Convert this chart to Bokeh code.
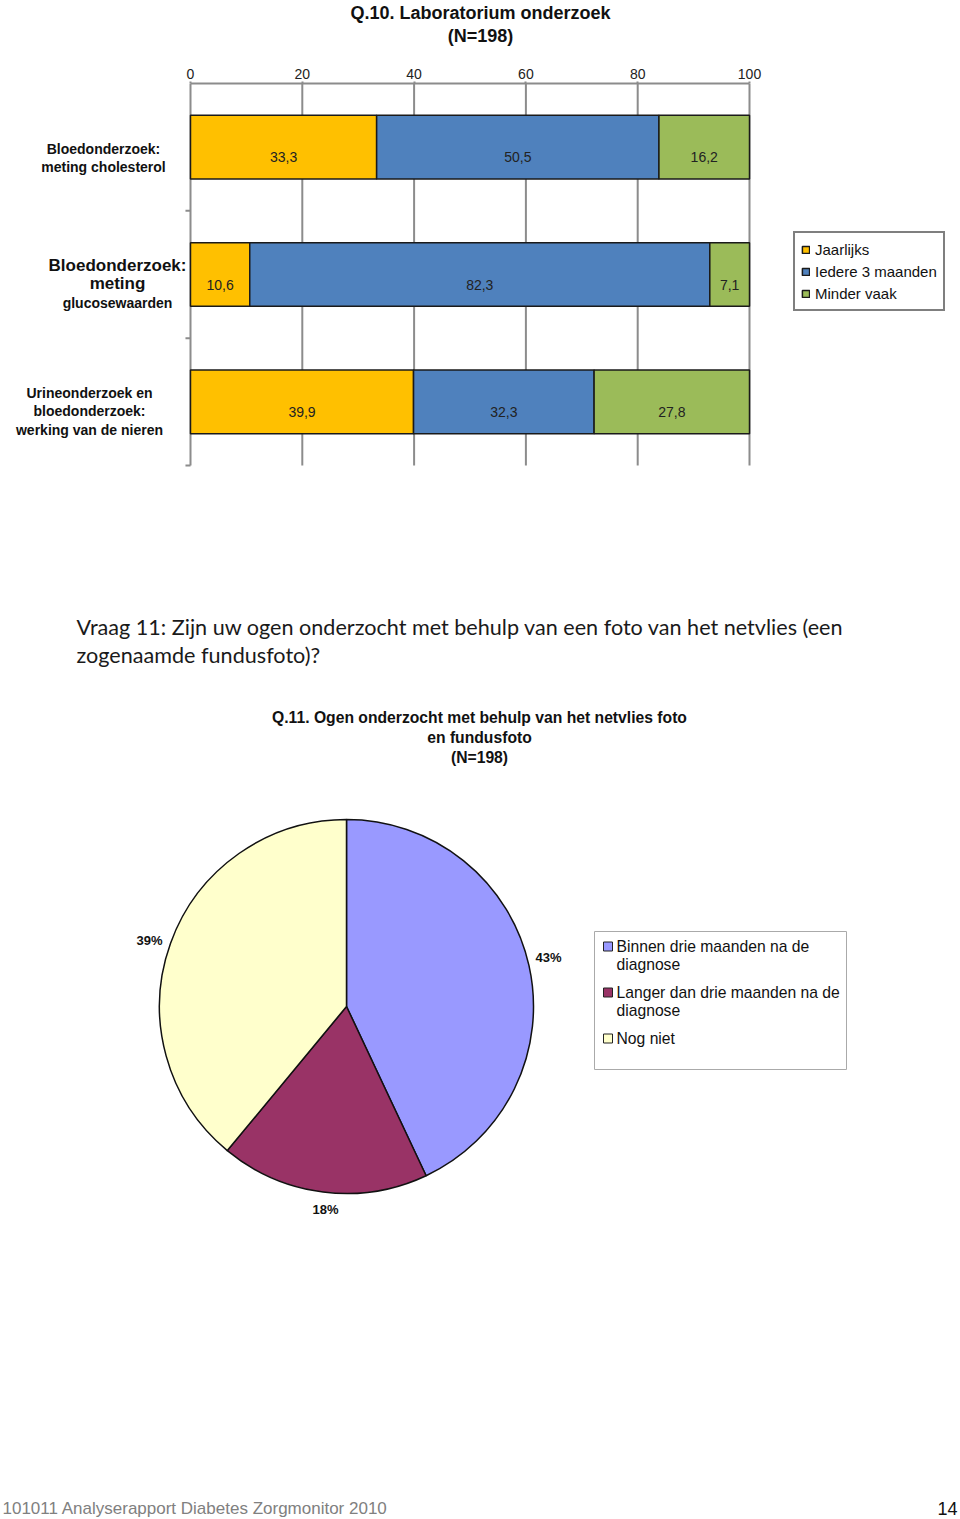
import numpy as np
from bokeh.plotting import figure
from bokeh.models import Range1d, LinearAxis, FixedTicker, Legend, LegendItem
from bokeh.embed import file_html
from bokeh.resources import INLINE
from bokeh.core.properties import value

FONT = "Liberation Sans"

# ---------------- data ----------------
title1 = ["Q.10. Laboratorium onderzoek", "(N=198)"]
categories = ["Bloedonderzoek:\nmeting cholesterol",
              "Bloedonderzoek:\nmeting\nglucosewaarden",
              "Urineonderzoek en\nbloedonderzoek:\nwerking van de nieren"]
series_names = ["Jaarlijks", "Iedere 3 maanden", "Minder vaak"]
jaarlijks = [33.3, 10.6, 39.9]
iedere_3_maanden = [50.5, 82.3, 32.3]
minder_vaak = [16.2, 7.1, 27.8]
x_ticks = [0, 20, 40, 60, 80, 100]

question = ["Vraag 11: Zijn uw ogen onderzocht met behulp van een foto van het netvlies (een",
            "zogenaamde fundusfoto)?"]
title2 = ["Q.11. Ogen onderzocht met behulp van het netvlies foto", "en fundusfoto", "(N=198)"]
pie_labels = ["Binnen drie maanden na de\ndiagnose",
              "Langer dan drie maanden na de\ndiagnose",
              "Nog niet"]
pie_values = [43, 18, 39]
footer = "101011 Analyserapport Diabetes Zorgmonitor 2010"
page_number = "14"

# ---------------- styles / layout ----------------
bar_colors = ["#FFC000", "#4F81BD", "#9BBB59"]
pie_colors = ["#9999FF", "#993366", "#FFFFCC"]
W, H = 960, 1519
FT = 83                      # top of plotting frame (page px)
BX0, BX1 = 190, 749          # page px of bar value 0 and 100
BY0, BY3 = 83, 465           # page px of category band 0 and 3
kx = (BX1 - BX0) / 100.0
ky = (BY3 - BY0) / 3.0

p = figure(width=W, height=H,
           x_range=Range1d(-BX0 / kx, (W - BX0) / kx),
           y_range=Range1d((H - BY0) / ky, (FT - BY0) / ky),
           output_backend="svg", toolbar_location=None,
           x_axis_type=None, y_axis_type=None,
           min_border_left=0, min_border_right=0, min_border_bottom=0,
           min_border_top=FT)
p.extra_x_ranges = {"px": Range1d(0, W)}
p.extra_y_ranges = {"py": Range1d(0, H - FT)}
p.outline_line_color = None
p.background_fill_color = "white"
p.border_fill_color = "white"

def Y(py):
    return H - py

# ---- top value axis (its label carries the second title line) ----
xa = LinearAxis(ticker=FixedTicker(ticks=x_ticks), bounds=(0, 100), axis_label=title1[1])
xa.axis_line_color = "#8c8c8c"
xa.axis_line_width = 2
xa.major_tick_line_color = "#8c8c8c"
xa.major_tick_line_width = 2
xa.major_tick_out = 2
xa.major_tick_in = 0
xa.minor_tick_line_color = None
xa.major_label_standoff = 3
xa.major_label_text_font = FONT
xa.major_label_text_font_size = "14px"
xa.major_label_text_color = "#222222"
xa.axis_label_standoff = 20
xa.axis_label_text_font = FONT
xa.axis_label_text_font_style = "bold"
xa.axis_label_text_font_size = "18px"
xa.axis_label_text_color = "#111111"
p.add_layout(xa, "above")

# ---- title (first line) ----
p.title.text = title1[0]
p.title.align = "center"
p.title.text_font = FONT
p.title.text_font_style = "bold"
p.title.text_font_size = "18px"
p.title.text_color = "#111111"
p.title.standoff = 0

# ---- grid lines and category axis (drawn through the bar scales) ----
ncat = len(categories)
p.segment(x0=x_ticks, y0=[0] * len(x_ticks), x1=x_ticks, y1=[ncat] * len(x_ticks),
          line_color="#8c8c8c", line_width=2)
p.segment(x0=[-0.9] * ncat, y0=list(range(1, ncat + 1)), x1=[0] * ncat,
          y1=list(range(1, ncat + 1)), line_color="#8c8c8c", line_width=2)

# ---- stacked bars ----
ycent = [i + 0.5 for i in range(ncat)]
left = np.zeros(ncat)
renderers = []
for vals, col in zip([jaarlijks, iedere_3_maanden, minder_vaak], bar_colors):
    right = left + np.array(vals)
    r = p.hbar(y=ycent, left=list(left), right=list(right), height=0.5,
               fill_color=col, line_color="#1a1a1a", line_width=1.5)
    p.text(x=list((left + right) / 2), y=ycent,
           text=[f"{v:.1f}".replace(".", ",") for v in vals],
           text_align="center", text_baseline="middle", y_offset=10,
           text_font=value(FONT), text_font_size="14px", text_color="#222222")
    renderers.append(r)
    left = right

legend = Legend(items=[LegendItem(label=n, renderers=[r]) for n, r in zip(series_names, renderers)],
                location=(793, H - 311))
legend.border_line_color = "black"
legend.border_line_width = 2
legend.glyph_width = 9
legend.glyph_height = 9
legend.label_text_font = FONT
legend.label_text_font_size = "15px"
legend.label_text_color = "#111111"
legend.label_height = 20
legend.label_standoff = 5
legend.spacing = 2
legend.padding = 6
legend.margin = 0
legend.background_fill_color = "white"
legend.background_fill_alpha = 1
p.add_layout(legend)

# ---- category labels ----
cat_cx = [103, 117, 89]
cat_line_py = [[148, 166], [265, 283, 302], [392, 410, 429]]
cat_line_size = [[14, 14], [17, 17, 14], [14, 14, 14]]
for cat, cx, pys, sizes in zip(categories, cat_cx, cat_line_py, cat_line_size):
    for line, py, sz in zip(cat.split("\n"), pys, sizes):
        p.text(x=[cx], y=[Y(py)], text=[line], text_align="center", text_baseline="middle",
               text_font=value(FONT), text_font_style="bold", text_font_size=f"{sz}px",
               text_color="#111111", x_range_name="px", y_range_name="py")

# ---- question text ----
p.text(x=[76, 76], y=[Y(626), Y(654)], text=question, text_baseline="middle",
       text_font=value("Lato"), text_font_size="21.6px", text_color="#1a1a1a",
       x_range_name="px", y_range_name="py")

# ---- pie chart ----
p.text(x=[479] * 3, y=[Y(717), Y(737), Y(757)], text=title2, text_align="center",
       text_baseline="middle", text_font=value(FONT), text_font_style="bold",
       text_font_size="15.7px", text_color="#111111", x_range_name="px", y_range_name="py")

vals = np.array(pie_values, dtype=float)
frac = vals / vals.sum()
cum_after = np.cumsum(frac)
cum_before = cum_after - frac
start = np.pi / 2 - 2 * np.pi * cum_after
end = np.pi / 2 - 2 * np.pi * cum_before
p.wedge(x=346, y=Y(1006), radius=187, start_angle=list(start), end_angle=list(end),
        fill_color=pie_colors, line_color="#111111", line_width=1.5,
        x_range_name="px", y_range_name="py")

pct_px = [548, 325, 149]
pct_py = [957, 1209, 940]
p.text(x=pct_px, y=[Y(v) for v in pct_py], text=[f"{v}%" for v in pie_values],
       text_align="center", text_baseline="middle", text_font=value(FONT),
       text_font_style="bold", text_font_size="13px", text_color="#111111",
       x_range_name="px", y_range_name="py")

# pie legend
p.quad(left=594, right=846, top=Y(931), bottom=Y(1069), fill_color="white",
       line_color="#aaaaaa", line_width=1, x_range_name="px", y_range_name="py")
leg_py = [946, 992, 1038]
p.rect(x=[607.5] * 3, y=[Y(v) for v in leg_py], width=9, height=9,
       fill_color=pie_colors, line_color="#222222", line_width=1,
       x_range_name="px", y_range_name="py")
tx, ty = [], []
for lab, py in zip(pie_labels, leg_py):
    for k, line in enumerate(lab.split("\n")):
        tx.append(line)
        ty.append(Y(py + 18 * k))
p.text(x=[616] * len(tx), y=ty, text=tx, text_baseline="middle",
       text_font=value(FONT), text_font_size="15.7px", text_color="#111111",
       x_range_name="px", y_range_name="py")

# ---- footer ----
p.text(x=[2], y=[Y(1508)], text=[footer], text_baseline="middle",
       text_font=value(FONT), text_font_size="17px", text_color="#808080",
       x_range_name="px", y_range_name="py")
p.text(x=[957], y=[Y(1508)], text=[page_number], text_align="right", text_baseline="middle",
       text_font=value(FONT), text_font_size="18px", text_color="#111111",
       x_range_name="px", y_range_name="py")

open("out.html", "w").write(file_html(p, INLINE))
